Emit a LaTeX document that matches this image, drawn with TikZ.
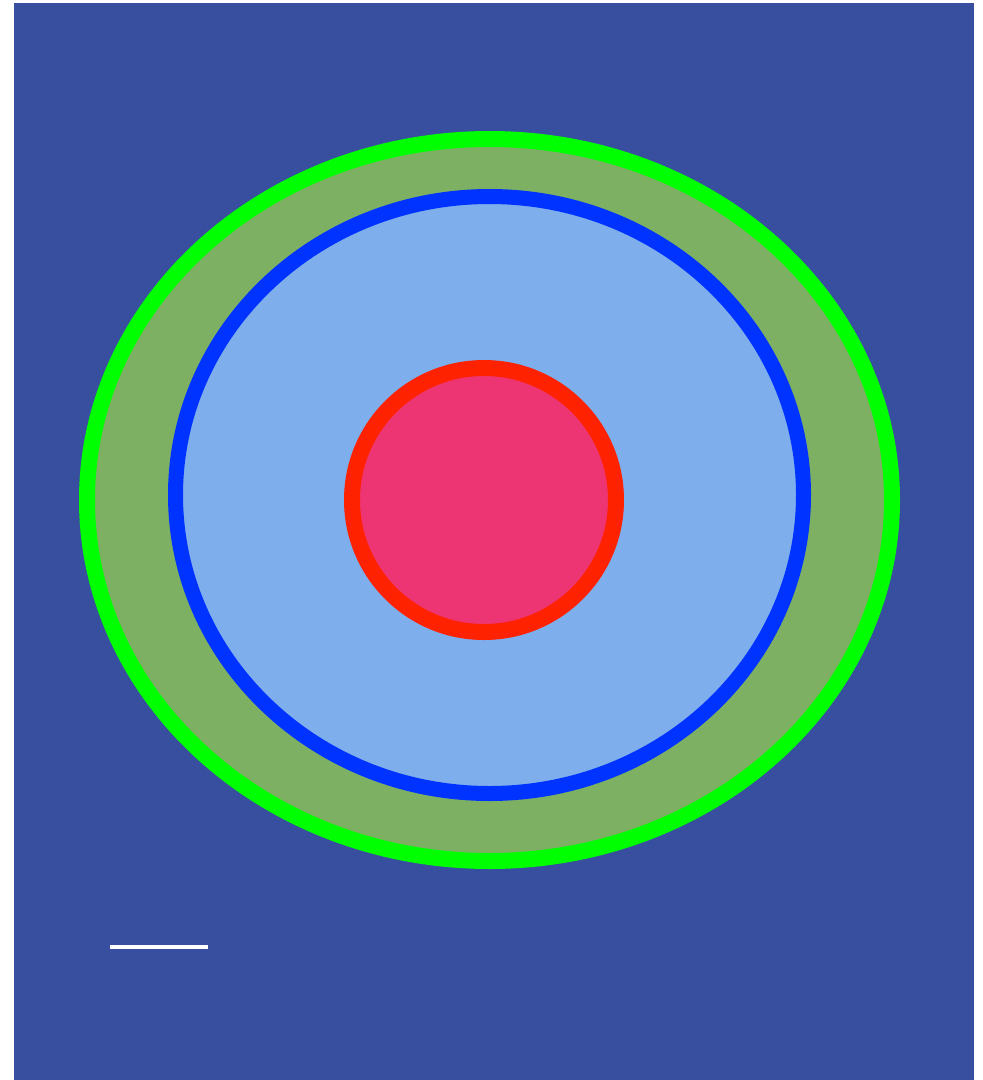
\documentclass[tikz,border=0pt]{standalone}
\definecolor{bg}{HTML}{384E9F}
\definecolor{gfill}{HTML}{7DB063}
\definecolor{gline}{HTML}{00FF00}
\definecolor{bfill}{HTML}{7EAEEB}
\definecolor{bline}{HTML}{0033FF}
\definecolor{rfill}{HTML}{EE3573}
\definecolor{rline}{HTML}{FF2200}
\begin{document}
\begin{tikzpicture}[x=1pt,y=-1pt,ring/.style={line width=16pt}]
\useasboundingbox (0,0) rectangle (983,1080);
\fill[bg] (14,3) rectangle (974,1080);
\draw[ring,draw=gline,fill=gfill] (489.5,500) ellipse [x radius=402.5,y radius=361];
\draw[ring,line width=15pt,draw=bline,fill=bfill] (489.5,495) ellipse [x radius=314,y radius=298.5];
\draw[ring,draw=rline,fill=rfill] (484,500) circle [radius=132];
\draw[white,line width=3.5pt] (110,947) -- (208,947);
\end{tikzpicture}
\end{document}
